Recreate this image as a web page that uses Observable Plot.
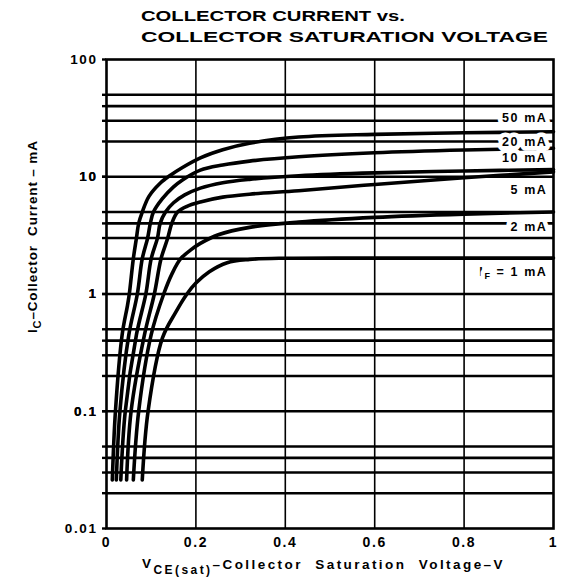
<!DOCTYPE html>
<html><head><meta charset="utf-8">
<script src="https://cdn.jsdelivr.net/npm/d3@7"></script>
<script src="https://cdn.jsdelivr.net/npm/@observablehq/plot@0.6"></script>
<style>
body{margin:0;background:#fff;}
#wrap{width:565px;height:580px;position:relative;}
#head{display:block;}
</style></head><body>
<div id="wrap"><svg id="head" width="565" height="50"></svg><div id="chart"></div></div>
<script>
// ---- text ----
const title1 = "COLLECTOR CURRENT vs.";
const title2 = "COLLECTOR SATURATION VOLTAGE";
const xTicks = [0, 0.2, 0.4, 0.6, 0.8, 1];
const xTickLabels = ["0", "0.2", "0.4", "0.6", "0.8", "1"];
const yTicks = [0.01, 0.1, 1, 10, 100];
const yTickLabels = ["0.01", "0.1", "1", "10", "100"];
const yGrid = [0.02, 0.03, 0.04, 0.05, 0.1, 0.2, 0.3, 0.4, 0.5, 1, 2, 3, 4, 5, 10, 20, 30, 40, 50];
const xGrid = [0.2, 0.4, 0.6, 0.8];
const curveNames = ["50 mA", "20 mA", "10 mA", "5 mA", "2 mA", "IF = 1 mA"];
const curveLabelY = [32, 19.7, 14.4, 7.7, 3.7, 1.55];

// ---- series (VCE(sat) in V, IC in mA) ----
const vce50 = [0.013, 0.02, 0.035, 0.047, 0.051, 0.06, 0.067, 0.072, 0.08, 0.095, 0.12, 0.143, 0.17, 0.21, 0.26, 0.32, 0.43, 0.6, 0.8, 1.0];
const ic50  = [0.026, 0.1, 0.45, 0.8, 1, 2, 3, 4, 5, 6.8, 8.8, 10.3, 12, 14.5, 17, 19.3, 21.8, 23, 23.7, 24.2];
const vce20 = [0.022, 0.03, 0.05, 0.069, 0.08, 0.092, 0.098, 0.105, 0.125, 0.15, 0.17, 0.21, 0.26, 0.32, 0.43, 0.6, 0.8, 1.0];
const ic20  = [0.026, 0.1, 0.45, 1, 2, 3, 4, 5, 6.5, 8.2, 9.4, 11.4, 12.6, 13.6, 14.8, 16, 16.9, 17.5];
const vce10 = [0.032, 0.042, 0.067, 0.088, 0.1, 0.114, 0.12, 0.132, 0.15, 0.175, 0.21, 0.26, 0.32, 0.43, 0.6, 0.8, 1.0];
const ic10  = [0.026, 0.1, 0.45, 1, 2, 3, 4, 5, 6, 7, 8, 8.9, 9.5, 10.2, 10.8, 11.2, 11.5];
const vce5  = [0.045, 0.055, 0.085, 0.107, 0.122, 0.137, 0.146, 0.159, 0.18, 0.21, 0.26, 0.32, 0.43, 0.6, 0.8, 1.0];
const ic5   = [0.026, 0.1, 0.45, 1, 2, 3, 4, 5, 5.6, 6.1, 6.7, 7.1, 7.6, 8.6, 9.8, 11.0];
const vce2  = [0.06, 0.072, 0.1, 0.128, 0.147, 0.166, 0.19, 0.21, 0.25, 0.32, 0.43, 0.6, 0.8, 1.0];
const ic2   = [0.026, 0.1, 0.45, 1, 1.5, 2, 2.4, 2.7, 3.2, 3.7, 4.1, 4.5, 4.8, 5.0];
const vce1  = [0.08, 0.093, 0.125, 0.155, 0.18, 0.2, 0.23, 0.27, 0.32, 0.4, 0.6, 0.8, 1.0];
const ic1   = [0.026, 0.1, 0.42, 0.7, 1, 1.24, 1.55, 1.85, 1.97, 2.02, 2.03, 2.03, 2.03];

const series = [
  {name: "50", v: vce50, i: ic50},
  {name: "20", v: vce20, i: ic20},
  {name: "10", v: vce10, i: ic10},
  {name: "5",  v: vce5,  i: ic5},
  {name: "2",  v: vce2,  i: ic2},
  {name: "1",  v: vce1,  i: ic1}
];
const rows = series.flatMap(s => s.v.map((v, k) => ({name: s.name, v, i: s.i[k]})));
const labels = curveNames.map((n, k) => ({name: n, y: curveLabelY[k]}));
const allYTicks = [...yTicks, ...yGrid].sort((a, b) => a - b);

const FONT = "'Liberation Sans', Arial, sans-serif";

const plot = Plot.plot({
  width: 565, height: 530,
  marginTop: 9, marginBottom: 52, marginLeft: 106, marginRight: 12,
  style: {fontFamily: FONT, fontSize: "12px", fontWeight: "bold", color: "#000", background: "#fff", overflow: "visible"},
  x: {type: "linear", domain: [0, 1]},
  y: {type: "log", domain: [0.01, 100]},
  marks: [
    Plot.ruleX(xGrid, {stroke: "#000", strokeWidth: 1.6}),
    Plot.ruleY(yGrid, {stroke: "#000", strokeWidth: 2.6}),
    Plot.line(rows, {x: "v", y: "i", z: "name", stroke: "#000", strokeWidth: 3.6, curve: "catmull-rom"}),
    Plot.text(labels, {frameAnchor: "right", y: "y", text: "name", textAnchor: "end", dx: -6,
      stroke: "white", strokeWidth: 9, paintOrder: "stroke", fill: "#000", fontSize: 12.5, fontWeight: "bold"}),
    Plot.axisY({ticks: allYTicks, tickFormat: d => { const k = yTicks.indexOf(d); return k >= 0 ? yTickLabels[k] : ""; },
      tickSize: 4, tickPadding: 5, label: null, strokeWidth: 2.4, fontSize: 13.5}),
    Plot.axisX({ticks: xTicks, tickFormat: d => xTickLabels[xTicks.indexOf(d)], tickSize: 0, tickPadding: 9, label: null, fontSize: 14}),
    Plot.frame({stroke: "#000", strokeWidth: 2.6})
  ]
});
document.getElementById("chart").appendChild(plot);

const svg = d3.select(plot);
svg.selectAll("text").style("letter-spacing", "1.6px");

// subscript F in the IF label
svg.selectAll("text").filter(function(){ return this.textContent === "IF = 1 mA"; }).each(function(){
  const t = d3.select(this);
  const tsp = t.select("tspan");
  const target = tsp.empty() ? t : tsp;
  target.text(null);
  target.append("tspan").text("I");
  target.append("tspan").attr("dy", 3).attr("font-size", 9).text("F");
  target.append("tspan").attr("dy", -3).text(" = 1 mA");
});

function fit(sel, target){
  const w = sel.node().getBBox().width;
  const n = sel.text().length;
  sel.style("letter-spacing", ((target - w) / n) + "px");
}

// axis titles with subscripts
const yl = svg.append("text")
  .attr("transform", "translate(37,283) rotate(-90)")
  .attr("text-anchor", "start")
  .attr("font-family", FONT).attr("font-size", 13.5).attr("font-weight", "bold").attr("fill", "#000");
yl.append("tspan").text("I");
yl.append("tspan").attr("dy", 4).attr("font-size", 11).text("C");
yl.append("tspan").attr("dy", -4).text("\u2013Collector  Current \u2013 mA");
fit(yl, 193);

const xl = svg.append("text")
  .attr("x", 142).attr("y", 519)
  .attr("text-anchor", "start")
  .attr("font-family", FONT).attr("font-size", 13.5).attr("font-weight", "bold").attr("fill", "#000");
xl.append("tspan").attr("dy", -1).text("V");
xl.append("tspan").attr("dy", 6).attr("font-size", 12).text("CE(sat)");
xl.append("tspan").attr("dy", -5).text("\u2013Collector  Saturation  Voltage\u2013V");
fit(xl, 363);

// title
const head = d3.select("#head");
head.append("text").attr("x", 141).attr("y", 21)
  .attr("text-anchor", "start")
  .attr("font-family", FONT).attr("font-size", 15).attr("font-weight", "bold")
  .attr("textLength", 264).attr("lengthAdjust", "spacingAndGlyphs").text(title1);
head.append("text").attr("x", 141).attr("y", 41.5)
  .attr("text-anchor", "start")
  .attr("font-family", FONT).attr("font-size", 15).attr("font-weight", "bold")
  .attr("textLength", 407).attr("lengthAdjust", "spacingAndGlyphs").text(title2);
</script>
</body></html>
